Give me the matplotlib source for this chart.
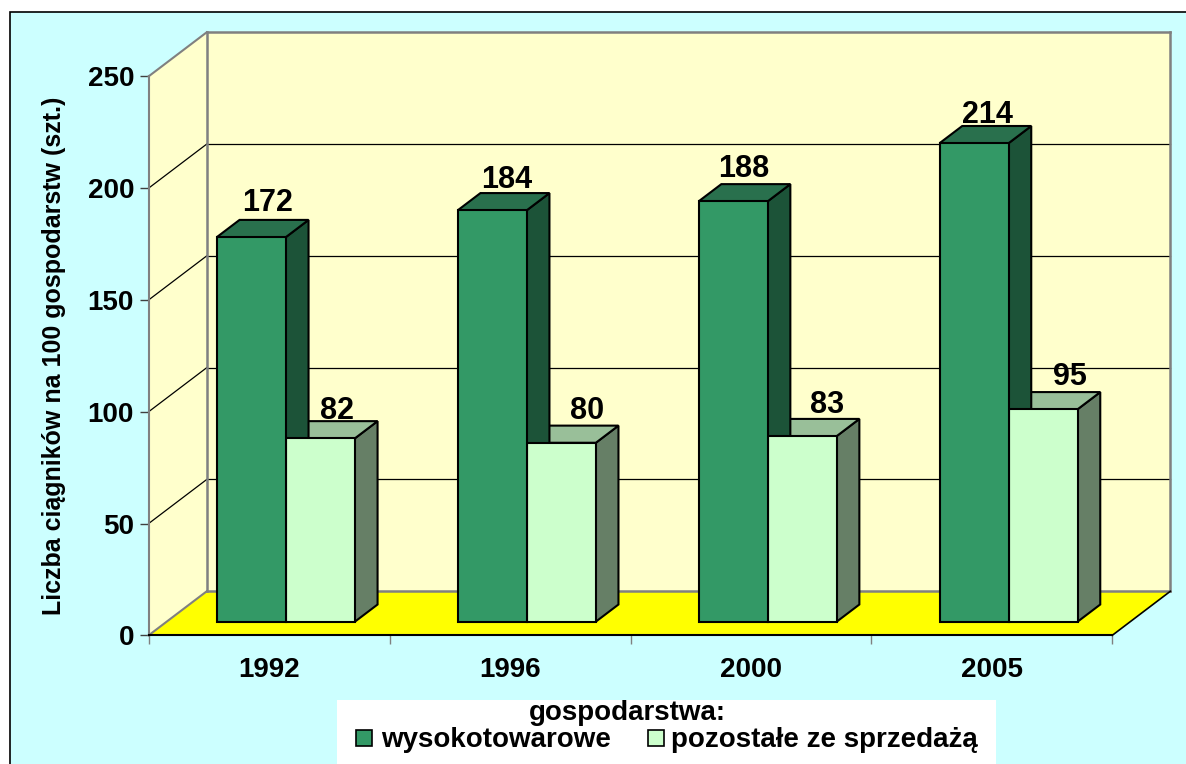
import matplotlib
matplotlib.use('Agg')
import matplotlib.pyplot as plt
from matplotlib.patches import Polygon, Rectangle
from matplotlib.transforms import Affine2D

plt.rcParams['font.family'] = ['Liberation Sans', 'DejaVu Sans']
plt.rcParams['font.weight'] = 'bold'

years = ['1992', '1996', '2000', '2005']
wysokotowarowe = [172, 184, 188, 214]
pozostale = [82, 80, 83, 95]
y_ticks = [0, 50, 100, 150, 200, 250]
legend_title = 'gospodarstwa:'
legend_labels = ['wysokotowarowe', 'pozostałe ze sprzedażą']
y_label = 'Liczba ciągników na 100 gospodarstw (szt.)'

# kolory
BG = '#CCFFFF'
WALL = '#FFFFCC'
FLOOR = '#FFFF00'
GRAY = '#808080'
colors_dark = ('#339966', '#29704D', '#1C5338')   # front, top, side
colors_light = ('#CCFFCC', '#99BF99', '#667F66')

W, H = 1186, 764
# front plane of the chart box, in pixels
LEFT, RIGHT, Y0, Y250 = 148.7, 1112.3, 635.3, 76.3
# how far the back wall is shifted, in data units
DX = 58.0 / ((RIGHT - LEFT) / 4)
DY = 44.0 / ((Y0 - Y250) / 250)
BAR_W = 0.2865
D_FRONT, D_BACK = 0.31, 0.70
# label offsets from the bar top, pixels (labels were placed by hand in the original)
nudge_dark = [(16, 34), (14, 30), (11, 32), (13, 28)]
nudge_light = [(17, 27), (26, 32), (25, 31), (27, 32)]

fig = plt.figure(figsize=(W / 100, H / 100), dpi=100, facecolor='white')
px = Affine2D().scale(1, -1).translate(0, H)

fig.add_artist(Rectangle((9.7, 11.7), W + 20, H + 20, transform=px, zorder=-2,
                         facecolor=BG, edgecolor='black', linewidth=1.2))

ax = fig.add_axes([LEFT / W, 1 - Y0 / H, (RIGHT - LEFT) / W, (Y0 - Y250) / H])
ax.patch.set_visible(False)
ax.set_xlim(0, 4)
ax.set_ylim(0, 250)


def pt(x, y, d=0.0):
    return (x + d * DX, y + d * DY)


def poly(points, fc, ec='black', lw=1.5, z=3):
    ax.add_patch(Polygon(points, closed=True, facecolor=fc, edgecolor=ec,
                         linewidth=lw, zorder=z, clip_on=False, joinstyle='miter'))


def line(a, b, c='black', lw=0.9, z=2):
    ax.plot([a[0], b[0]], [a[1], b[1]], color=c, lw=lw, zorder=z, clip_on=False,
            solid_capstyle='projecting')


# walls
poly([pt(0, 0), pt(0, 250), pt(0, 250, 1), pt(0, 0, 1)], WALL, 'none', 0, 1)
poly([pt(0, 0, 1), pt(0, 250, 1), pt(4, 250, 1), pt(4, 0, 1)], WALL, 'none', 0, 1)
poly([pt(0, 0), pt(4, 0), pt(4, 0, 1), pt(0, 0, 1)], FLOOR, 'none', 0, 1)

for t in y_ticks[1:-1]:
    line(pt(0, t), pt(0, t, 1))
    line(pt(0, t, 1), pt(4, t, 1))

line(pt(0, 0), pt(0, 0, 1), GRAY, 1.5)
line(pt(0, 250), pt(0, 250, 1), GRAY, 1.5)
line(pt(0, 0, 1), pt(0, 250, 1), GRAY, 1.8)
line(pt(0, 250, 1), pt(4, 250, 1), GRAY, 1.8)
line(pt(4, 0, 1), pt(4, 250, 1), GRAY, 1.8)
line(pt(0, 0, 1), pt(4, 0, 1), GRAY, 1.8)
line(pt(4, 0), pt(4, 0, 1), 'black', 1.2)


def bar3d(x, v, cols):
    l, r = x, x + BAR_W
    poly([pt(r, 0, D_FRONT), pt(r, v, D_FRONT), pt(r, v, D_BACK), pt(r, 0, D_BACK)], cols[2])
    poly([pt(l, v, D_FRONT), pt(r, v, D_FRONT), pt(r, v, D_BACK), pt(l, v, D_BACK)], cols[1])
    poly([pt(l, 0, D_FRONT), pt(r, 0, D_FRONT), pt(r, v, D_FRONT), pt(l, v, D_FRONT)], cols[0], z=4)


for i in range(len(years)):
    x_left = i + 0.5 - BAR_W - 0.005
    for x, v, cols, off in ((x_left + BAR_W, pozostale[i], colors_light, nudge_light[i]),
                            (x_left, wysokotowarowe[i], colors_dark, nudge_dark[i])):
        bar3d(x, v, cols)
        ax.annotate(str(v), pt(x + BAR_W / 2, v, D_FRONT), xytext=off,
                    textcoords='offset pixels', ha='center', va='center',
                    fontsize=22, zorder=6, annotation_clip=False)

# axis
for s in ('top', 'right'):
    ax.spines[s].set_visible(False)
ax.spines['left'].set_color(GRAY)
ax.spines['left'].set_linewidth(1.5)
ax.spines['bottom'].set_color('black')
ax.spines['bottom'].set_linewidth(1.5)
ax.set_yticks(y_ticks)
ax.set_xticks(range(5))
ax.set_xticklabels([])
ax.set_xticks([i + 0.5 for i in range(4)], labels=years, minor=True)
ax.tick_params(axis='x', which='minor', length=0, labelsize=20, pad=15.5)
ax.tick_params(axis='x', which='major', length=6.5, width=1, color=GRAY)
ax.tick_params(axis='y', length=6.5, width=1, color='#404040', labelsize=20, pad=4)

fig.text(54, 356, y_label, transform=px, rotation=90, ha='center', va='center', fontsize=18)

# legend
fig.add_artist(Rectangle((337, 700), 659, 70, transform=px, facecolor='white', edgecolor='none', zorder=-1))
fig.text(627, 713, legend_title, transform=px, ha='center', va='center', fontsize=20)
for sx, tx, lab, cols in ((356, 381, legend_labels[0], colors_dark), (648, 671, legend_labels[1], colors_light)):
    fig.add_artist(Rectangle((sx, 730), 16, 16, transform=px, facecolor=cols[0], edgecolor='black', linewidth=1.2))
    fig.text(tx, 740, lab, transform=px, ha='left', va='center', fontsize=20)

plt.savefig('out.png', dpi=100)
